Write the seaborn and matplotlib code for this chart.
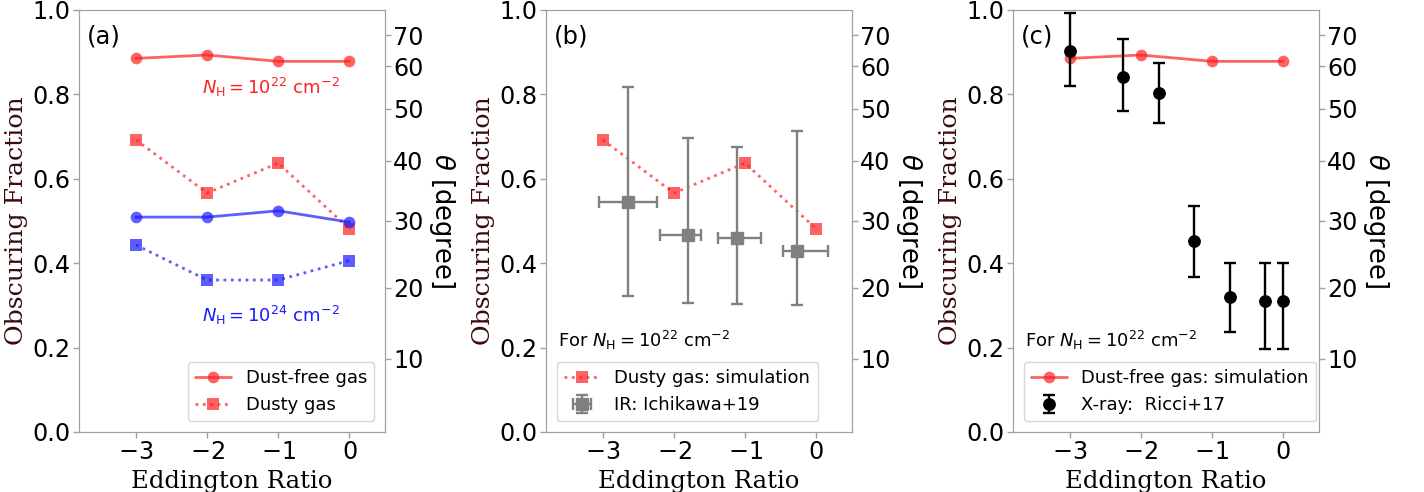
import numpy as np
import pandas as pd
import seaborn as sns
import matplotlib
matplotlib.use("Agg")
import matplotlib.pyplot as plt

# ---- data ----
edd = [-3, -2, -1, 0]
dustfree_22 = [0.885, 0.893, 0.878, 0.878]
dusty_22 = [0.692, 0.566, 0.637, 0.481]
dustfree_24 = [0.509, 0.509, 0.524, 0.497]
dusty_24 = [0.443, 0.360, 0.360, 0.406]

# IR (Ichikawa+19)
ir_x = [-2.65, -1.80, -1.12, -0.27]
ir_xerr_lo = [0.40, 0.40, 0.26, 0.19]
ir_xerr_hi = [0.41, 0.18, 0.35, 0.43]
ir_y = [0.544, 0.467, 0.460, 0.429]
ir_y_hi = [0.817, 0.697, 0.676, 0.712]
ir_y_lo = [0.322, 0.306, 0.303, 0.301]

# X-ray (Ricci+17)
xr_x = [-3.0, -2.25, -1.75, -1.25, -0.75, -0.25, 0.0]
xr_y = [0.903, 0.842, 0.803, 0.452, 0.320, 0.310, 0.310]
xr_y_hi = [0.993, 0.932, 0.874, 0.536, 0.400, 0.401, 0.401]
xr_y_lo = [0.820, 0.760, 0.733, 0.366, 0.238, 0.196, 0.196]

theta_ticks = [10, 20, 30, 40, 50, 60, 70]
frac_ticks = [0.0, 0.2, 0.4, 0.6, 0.8, 1.0]

sns.set_style("white")
plt.rcParams["font.family"] = ["DejaVu Sans"]
plt.rcParams["mathtext.fontset"] = "dejavusans"
plt.rcParams["axes.edgecolor"] = "#a0a0a0"
plt.rcParams["text.color"] = "black"
plt.rcParams["axes.labelcolor"] = "black"
plt.rcParams["xtick.labelcolor"] = "black"
plt.rcParams["ytick.labelcolor"] = "black"
plt.rcParams["xtick.bottom"] = True
plt.rcParams["ytick.left"] = True
plt.rcParams["xtick.direction"] = "out"
plt.rcParams["ytick.direction"] = "out"

RED = "#ff2020"
BLUE = "#1a1aff"
TFS = 17.2   # tick labels
LFS = 13     # legend / annotations
NH22 = r"$N_{\rm H} = 10^{22}$ cm$^{-2}$"
NH24 = r"$N_{\rm H} = 10^{24}$ cm$^{-2}$"

fig, axes = plt.subplots(1, 3, figsize=(14.24, 4.92), dpi=100)
fig.subplots_adjust(left=0.0555, right=0.926, top=0.98, bottom=0.122, wspace=0.526)


def style_axes(ax, tag):
    ax.set_xlim(-3.8, 0.5)
    ax.set_ylim(0, 1)
    ax.set_xticks(edd)
    ax.set_xticklabels([r"$-3$", r"$-2$", r"$-1$", r"$0$"])
    ax.set_yticks(frac_ticks)
    ax.set_yticklabels([f"{v:.1f}" for v in frac_ticks])
    ax.tick_params(labelsize=TFS, length=4, width=1, color="#a0a0a0",
                   labelcolor="black", pad=2)
    ax.set_xlabel("Eddington Ratio", family="DejaVu Serif", fontsize=17.5,
                  color="black", labelpad=4)
    ax.set_ylabel("Obscuring Fraction", family="DejaVu Serif", fontsize=18.2,
                  color="#3a0a0a", labelpad=3)
    ax.text(0.027, 0.965, tag, transform=ax.transAxes, fontsize=17.5,
            color="black", va="top", ha="left")
    for s in ax.spines.values():
        s.set_color("#a0a0a0")
    # secondary axis: opening angle theta with sin(theta) = fraction
    tw = ax.twinx()
    tw.set_ylim(0, 1)
    tw.set_yticks(np.sin(np.radians(theta_ticks)))
    tw.set_yticklabels([str(t) for t in theta_ticks])
    tw.tick_params(labelsize=TFS, length=4, width=1, color="#a0a0a0",
                   labelcolor="black", pad=2)
    tw.set_ylabel(r"$\theta$ [degree]", fontsize=18.6, rotation=270,
                  color="black", labelpad=24)
    for s in tw.spines.values():
        s.set_color("#a0a0a0")
    return tw


line_kw = dict(linewidth=2.0, alpha=0.7, markersize=8.4, markeredgewidth=0)
err_kw = dict(elinewidth=1.7, capsize=4, capthick=1.7)

# (a) simulations
ax = axes[0]
style_axes(ax, "(a)")
sns.lineplot(x=edd, y=dustfree_22, ax=ax, color=RED, marker="o", linestyle="-", **line_kw)
sns.lineplot(x=edd, y=dusty_22, ax=ax, color=RED, marker="s", linestyle=":", **line_kw)
sns.lineplot(x=edd, y=dustfree_24, ax=ax, color=BLUE, marker="o", linestyle="-", **line_kw)
sns.lineplot(x=edd, y=dusty_24, ax=ax, color=BLUE, marker="s", linestyle=":", **line_kw)
ax.text(-1.11, 0.817, NH22, color=RED, fontsize=LFS, ha="center", va="center")
ax.text(-1.11, 0.277, NH24, color=BLUE, fontsize=LFS, ha="center", va="center")
h = ax.get_lines()
ax.legend([h[0], h[1]], ["Dust-free gas", "Dusty gas"], loc="lower right",
          fontsize=LFS, borderaxespad=0.6, labelcolor="black")

# (b) dusty gas vs IR
ax = axes[1]
style_axes(ax, "(b)")
sns.lineplot(x=edd, y=dusty_22, ax=ax, color=RED, marker="s", linestyle=":", **line_kw)
ir_yerr = [np.array(ir_y) - np.array(ir_y_lo), np.array(ir_y_hi) - np.array(ir_y)]
eb_ir = ax.errorbar(ir_x, ir_y, yerr=ir_yerr, xerr=[ir_xerr_lo, ir_xerr_hi], fmt="s",
                    color="gray", markersize=8.8, **err_kw)
ax.text(0.04, 0.218, "For " + NH22, transform=ax.transAxes, fontsize=LFS,
        color="black", ha="left", va="center")
ax.legend([ax.get_lines()[0], eb_ir], ["Dusty gas: simulation", "IR: Ichikawa+19"],
          loc="lower left", fontsize=LFS, borderaxespad=0.6, labelcolor="black")

# (c) dust-free gas vs X-ray
ax = axes[2]
style_axes(ax, "(c)")
sns.lineplot(x=edd, y=dustfree_22, ax=ax, color=RED, marker="o", linestyle="-", **line_kw)
xr_yerr = [np.array(xr_y) - np.array(xr_y_lo), np.array(xr_y_hi) - np.array(xr_y)]
eb_xr = ax.errorbar(xr_x, xr_y, yerr=xr_yerr, fmt="o", color="black", markersize=8.2,
                    **err_kw)
ax.text(0.04, 0.218, "For " + NH22, transform=ax.transAxes, fontsize=LFS,
        color="black", ha="left", va="center")
ax.legend([ax.get_lines()[0], eb_xr], ["Dust-free gas: simulation", "X-ray:  Ricci+17"],
          loc="lower left", fontsize=LFS, borderaxespad=0.6, labelcolor="black")

fig.savefig("out.png", dpi=100)
